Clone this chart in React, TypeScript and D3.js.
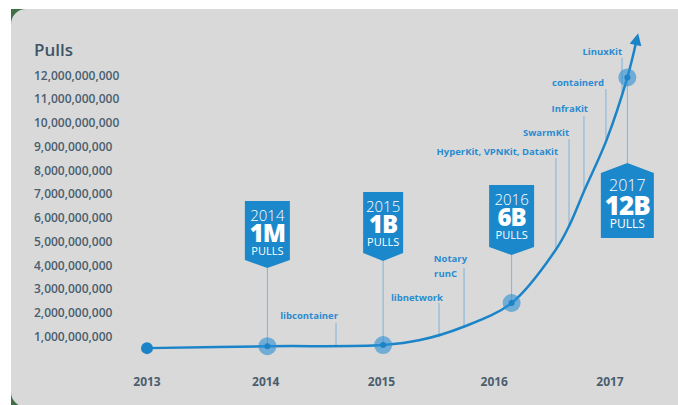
import React from "react";
import * as d3 from "d3";

// ---------- data ----------
const xYears = [2013, 2014, 2015, 2016, 2017];
const yTicks = [1e9, 2e9, 3e9, 4e9, 5e9, 6e9, 7e9, 8e9, 9e9, 10e9, 11e9, 12e9];

// growth curve (year, billions of pulls)
const curveYears = [2013.0, 2014.04, 2015.04, 2015.36, 2015.73, 2016.15, 2016.53, 2016.65, 2016.78, 2016.97, 2017.15, 2017.23];
const curveValues = [0.5, 0.58, 0.63, 0.84, 1.39, 2.4, 4.63, 5.68, 7.16, 9.26, 11.9, 13.47];

// milestone tags
const badgeYearLabels = ["2014", "2015", "2016", "2017"];
const badgeAmounts = ["1M", "1B", "6B", "12B"];
const badgeYears = [2014.04, 2015.04, 2016.15, 2017.15];
const badgeMarkerValues = [0.58, 0.63, 2.4, 11.9];
const badgeTagValues = [3.87, 4.17, 4.42, 8.29];
const badgeHangsBelow = [false, false, false, true];

// open-source projects
const projectNames = ["libcontainer", "libnetwork", "runC", "Notary", "HyperKit, VPNKit, DataKit", "SwarmKit", "InfraKit", "containerd", "LinuxKit"];
const projectYears = [2014.633, 2015.523, 2015.739, 2015.76, 2016.533, 2016.646, 2016.775, 2016.965, 2017.104];
const projectLabelEndYears = [2014.65, 2015.557, 2015.678, 2015.765, 2016.551, 2016.646, 2016.81, 2016.948, 2017.104];
const projectLabelValues = [1.853, 2.65, 3.66, 4.29, 8.76, 9.6, 10.57, 11.7, 12.97];
const projectLineTopValues = [1.56, 2.4, 3.87, null, 8.5, 9.3, 10.27, 11.41, 12.72];
const projectLineEndValues = [0.63, 0.95, 1.4, null, 4.63, 5.68, 7.16, 9.3, 11.24];

// ---------- styles ----------
const W = 678;
const H = 405;
const BLUE = "#1b84c8";
const TAG = "#1b88cb";
const STEM = "#7db4dc";
const LABEL = "#2a8bd0";
const AXIS = "#4a5e6e";
const FONT = "'Open Sans', 'Noto Sans', sans-serif";

export default function App() {
  const x = d3.scaleLinear().domain([2013, 2017]).range([147, 610]);
  const y = d3.scaleLinear().domain([0, 12e9]).range([360, 75]);
  const B = 1e9;

  const pts = curveYears.map((yr, i) => [x(yr), y(curveValues[i] * B)] as [number, number]);
  const line = d3.line().curve(d3.curveCatmullRom.alpha(0.5))(pts) || "";

  return (
    <svg width={W} height={H} style={{ position: "absolute", left: 0, top: 0, display: "block" }} fontFamily={FONT}>
      <defs>
        <marker id="arrow" viewBox="0 0 12 12" refX="5" refY="6" markerWidth="13" markerHeight="12" markerUnits="userSpaceOnUse" orient="auto">
          <path d="M0,0 L12,6 L0,12 Z" fill={BLUE} />
        </marker>
      </defs>
      <rect x={0} y={0} width={W} height={H} fill="#ffffff" />
      <rect x={11} y={9} width={40} height={H} fill="#3f6f45" />
      <rect x={11} y={9} width={720} height={398} rx={15} fill="#d9d9d9" />

      {/* title */}
      <text x={34} y={56} fontSize={17} fontWeight={600} fill="#3d5566">Pulls</text>

      {/* y ticks */}
      {yTicks.map((t) => (
        <text key={t} x={34} y={y(t) + 4.5} fontSize={12} fontWeight={600} fill={AXIS}>
          {d3.format(",")(t)}
        </text>
      ))}

      {/* x ticks */}
      {xYears.map((yr, i) => (
        <text key={yr} x={x(yr) + (i === 1 || i === 2 ? 3 : 0)} y={386} fontSize={12} fontWeight={700} fill={AXIS} textAnchor="middle">
          {yr}
        </text>
      ))}

      {/* project annotations */}
      {projectNames.map((name, i) => (
        <g key={name}>
          {projectLineTopValues[i] !== null && (
            <line
              x1={x(projectYears[i])}
              x2={x(projectYears[i])}
              y1={y((projectLineTopValues[i] as number) * B)}
              y2={y((projectLineEndValues[i] as number) * B)}
              stroke={STEM}
              strokeWidth={1}
            />
          )}
          <text x={x(projectLabelEndYears[i])} y={y(projectLabelValues[i] * B) + 3.5} fontSize={9.5} fontWeight={700} fill={LABEL} textAnchor="end">
            {name}
          </text>
        </g>
      ))}

      {/* badge stems */}
      {badgeYearLabels.map((lab, i) => (
        <line key={"s" + lab} x1={x(badgeYears[i])} x2={x(badgeYears[i])} y1={y(badgeTagValues[i] * B)} y2={y(badgeMarkerValues[i] * B)} stroke={STEM} strokeWidth={1} />
      ))}

      {/* curve */}
      <path d={line} fill="none" stroke={BLUE} strokeWidth={2.5} markerEnd="url(#arrow)" />

      {/* start dot */}
      <circle cx={x(curveYears[0])} cy={y(curveValues[0] * B)} r={6} fill={BLUE} />

      {/* milestone markers */}
      {badgeYearLabels.map((lab, i) => (
        <g key={"m" + lab}>
          <circle cx={x(badgeYears[i])} cy={y(badgeMarkerValues[i] * B)} r={9} fill="#2a8fd4" fillOpacity={0.6} />
          <circle cx={x(badgeYears[i])} cy={y(badgeMarkerValues[i] * B)} r={3} fill={BLUE} />
        </g>
      ))}

      {/* tags */}
      {badgeYearLabels.map((lab, i) => {
        const cx = x(badgeYears[i]);
        const anchorY = y(badgeTagValues[i] * B);
        const big = i === 3;
        const w = big ? 53 : i === 1 ? 40 : 45;
        const h = big ? 75 : i === 2 ? 70 : i === 1 ? 69 : 67;
        const notch = big ? 10 : 8;
        let d: string;
        let top: number;
        if (badgeHangsBelow[i]) {
          top = anchorY;
          d = `M${cx},${top} L${cx + w / 2},${top + notch} L${cx + w / 2},${top + h} L${cx - w / 2},${top + h} L${cx - w / 2},${top + notch} Z`;
        } else {
          top = anchorY - h;
          d = `M${cx - w / 2},${top} L${cx + w / 2},${top} L${cx + w / 2},${anchorY - notch} L${cx},${anchorY} L${cx - w / 2},${anchorY - notch} Z`;
        }
        const yearBase = big ? top + 28 : top + 20;
        const amtBase = big ? top + 52 : top + 41;
        const pullBase = big ? top + 65 : top + 54;
        return (
          <g key={"t" + lab}>
            <path d={d} fill={TAG} />
            <text x={cx} y={yearBase} fontSize={big ? 16 : 15} fontWeight={300} fill="#fff" textAnchor="middle">{lab}</text>
            <text x={cx} y={amtBase} fontSize={big ? 26 : 24} fontWeight={800} fill="#fff" textAnchor="middle" letterSpacing={-1}>{badgeAmounts[i]}</text>
            <text x={cx} y={pullBase} fontSize={big ? 12 : 11} fontWeight={400} fill="#fff" textAnchor="middle">PULLS</text>
          </g>
        );
      })}
    </svg>
  );
}
